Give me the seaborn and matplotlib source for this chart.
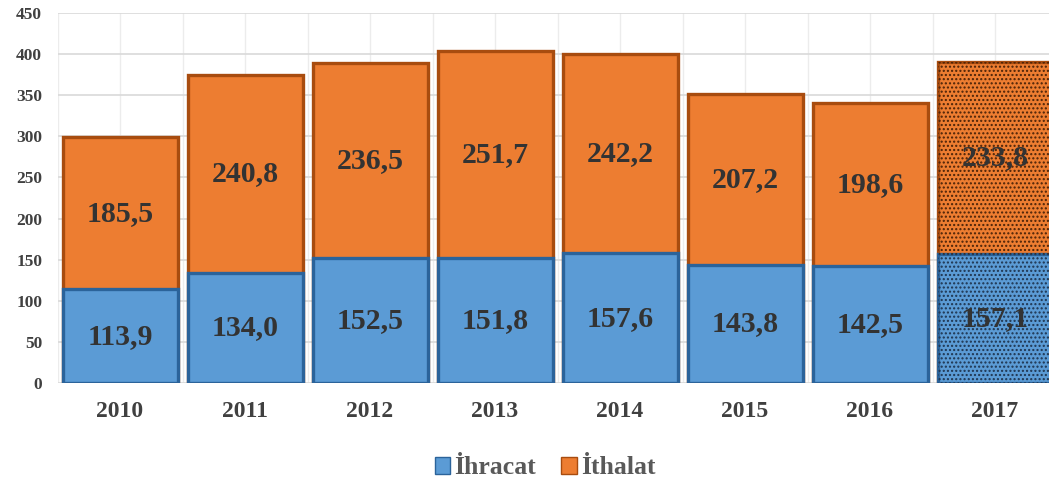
import matplotlib.pyplot as plt
import matplotlib.patches as mpatches
import seaborn as sns
import pandas as pd
import numpy as np

# values
years = ["2010", "2011", "2012", "2013", "2014", "2015", "2016", "2017"]
ihracat = [113.9, 134.0, 152.5, 151.8, 157.6, 143.8, 142.5, 157.1]
ithalat = [185.5, 240.8, 236.5, 251.7, 242.2, 207.2, 198.6, 233.8]
y_ticks = [0, 50, 100, 150, 200, 250, 300, 350, 400, 450]

BLUE = "#5b9bd5"
BLUE_EDGE = "#2b639a"
ORANGE = "#ed7d31"
ORANGE_EDGE = "#a84c0f"
TEXT = "#333333"

sns.set_theme(style="white")
plt.rcParams["font.family"] = ["Liberation Serif", "DejaVu Serif"]
plt.rcParams["font.weight"] = "bold"

df = pd.DataFrame({"year": years, "ihracat": ihracat, "ithalat": ithalat})
df["total"] = df["ihracat"] + df["ithalat"]

fig = plt.figure(figsize=(10.49, 4.87), dpi=100)
ax = fig.add_axes([57.5 / 1049, 104 / 487, 1000 / 1049, 370 / 487])

# stacked bars: total in orange, export drawn over it in blue
sns.barplot(data=df, x="year", y="total", color=ORANGE, width=0.92,
            errorbar=None, ax=ax, edgecolor=ORANGE_EDGE, linewidth=2.4,
            saturation=1, zorder=3)
sns.barplot(data=df, x="year", y="ihracat", color=BLUE, width=0.92,
            errorbar=None, ax=ax, edgecolor=BLUE_EDGE, linewidth=2.4,
            saturation=1, zorder=3)

# dotted pattern for 2017 (estimate)
last = len(years) - 1
ax.bar(last, df["ihracat"][last], width=0.92, bottom=0, color="none",
       edgecolor="#1f3550", hatch="....", linewidth=0, zorder=4)
ax.bar(last, df["ithalat"][last], width=0.92, bottom=df["ihracat"][last],
       color="none", edgecolor="#4a2208", hatch="....", linewidth=0, zorder=4)

for i in range(len(years)):
    lo = df["ihracat"][i]
    hi = df["ithalat"][i]
    ax.text(i, lo / 2, f"{lo:.1f}".replace(".", ","), ha="center", va="center",
            fontsize=21.5, fontweight="bold", color=TEXT, zorder=5)
    ax.text(i, lo + hi / 2, f"{hi:.1f}".replace(".", ","), ha="center",
            va="center", fontsize=21.5, fontweight="bold", color=TEXT, zorder=5)

ax.set_xlim(-0.5, len(years) - 0.5)
ax.set_ylim(0, 450)
ax.set_yticks(y_ticks)
ax.set_yticklabels([str(t) for t in y_ticks], fontsize=12.5, fontweight="bold",
                   color="#404040")
ax.set_xticks(range(len(years)))
ax.set_xticklabels(years, fontsize=17, fontweight="bold", color="#404040")
ax.tick_params(axis="y", length=0, pad=11)
ax.tick_params(axis="x", length=0, pad=13)
ax.set_xlabel("")
ax.set_ylabel("")

ax.grid(axis="y", color="#d9d9d9", linewidth=1.2, zorder=0)
for xv in np.arange(-0.5, len(years), 0.5):
    ax.axvline(xv, color="#ececec", linewidth=1, zorder=0)
for s in ax.spines.values():
    s.set_visible(False)

handles = [mpatches.Patch(facecolor=BLUE, edgecolor=BLUE_EDGE, label="İhracat"),
           mpatches.Patch(facecolor=ORANGE, edgecolor=ORANGE_EDGE, label="İthalat")]
fig.legend(handles=handles, loc="center", bbox_to_anchor=(545 / 1049, 1 - 468 / 487),
           ncol=2, frameon=False, handlelength=0.6, handleheight=0.6,
           handletextpad=0.15, columnspacing=1.0,
           prop={"size": 18.5, "weight": "bold"}, labelcolor="#595959")

fig.savefig("out.png", dpi=100)
